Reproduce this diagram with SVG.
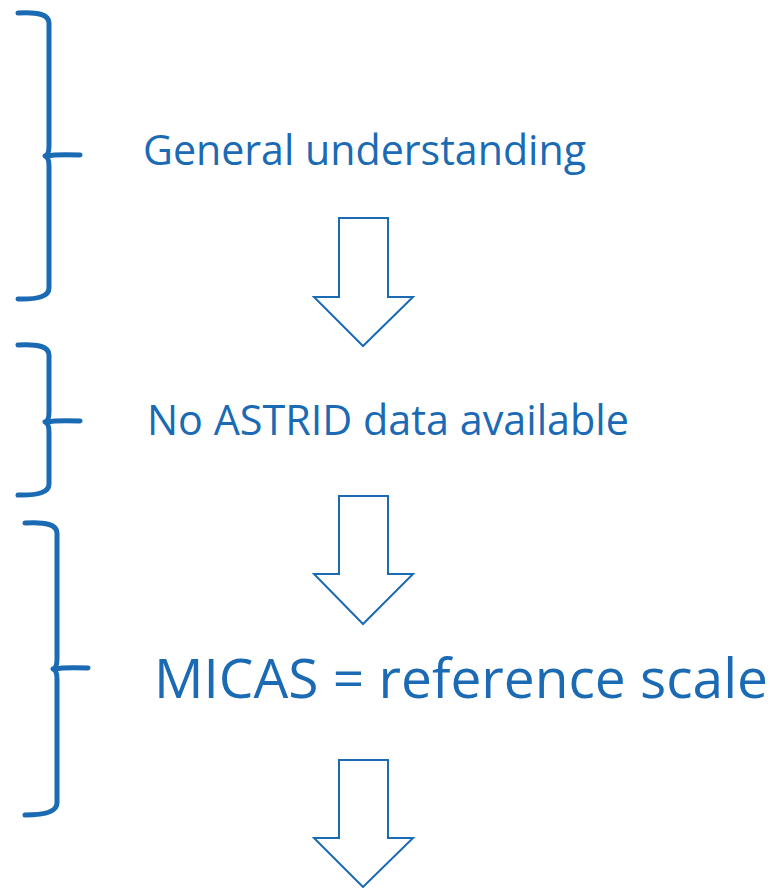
<svg xmlns="http://www.w3.org/2000/svg" width="776" height="888" viewBox="0 0 776 888">
<style>
.lbl{font-family:"Open Sans",Lato,"Liberation Sans",sans-serif;fill:#1b6ab4}
.brace{fill:none;stroke:#1b6ab4;stroke-width:5;stroke-linecap:round;stroke-linejoin:round}
.arrow{fill:#ffffff;stroke:#1b6ab4;stroke-width:2;stroke-linejoin:miter}
</style>
<rect width="776" height="888" fill="#ffffff"/>
<g id="brace1">
<path class="brace" d="M18,13 Q49,11 49,23 L49,146 Q49,155 45,156 Q49,157 49,166 L49,288 Q49,300 18,299"/>
<path class="brace" d="M47,156 Q56,154 80,155"/>
</g>
<g id="brace2">
<path class="brace" d="M18,345 Q49,343 49,355 L49,412 Q49,421 45,422 Q49,423 49,432 L49,484 Q49,496 18,495"/>
<path class="brace" d="M47,422 Q56,420 80,421"/>
</g>
<g id="brace3">
<path class="brace" d="M25,523 Q57,521 57,533 L57,659 Q57,668 53,669 Q57,670 57,679 L57,803 Q57,815 25,815"/>
<path class="brace" d="M55,669 Q64,667 88,668"/>
</g>
<g id="node-general">
<text class="lbl" x="143" y="165" font-size="42" textLength="443" lengthAdjust="spacingAndGlyphs">General understanding</text>
</g>
<g id="node-astrid">
<text class="lbl" x="147" y="435" font-size="42" textLength="482" lengthAdjust="spacingAndGlyphs">No ASTRID data available</text>
</g>
<g id="node-micas">
<text class="lbl" x="154" y="698" font-size="55" textLength="614" lengthAdjust="spacingAndGlyphs">MICAS = reference scale</text>
</g>
<g id="connectors">
<path class="arrow" d="M339,218 H388 V297 H413 L363,346 L314,297 H339 Z"/>
<path class="arrow" d="M339,496 H388 V574 H413 L363,624 L314,574 H339 Z"/>
<path class="arrow" d="M339,760 H388 V838 H413 L363,887 L314,838 H339 Z"/>
</g>
</svg>
